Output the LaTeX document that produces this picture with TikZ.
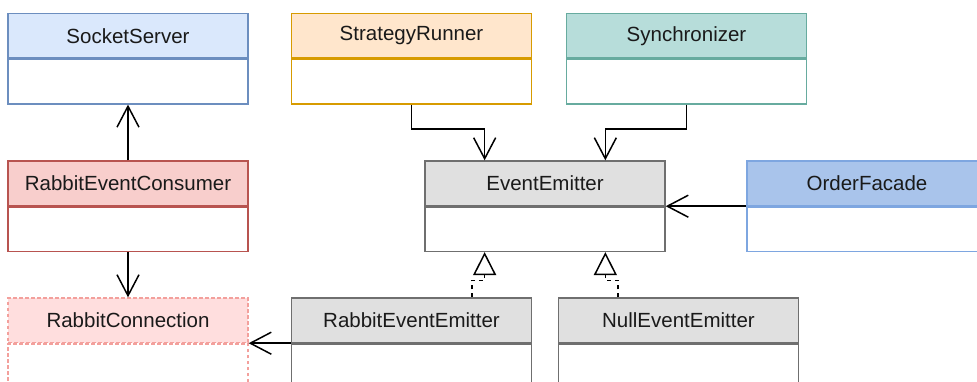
\documentclass[tikz,border=0pt]{standalone}
\usepackage{fontspec}
\setmainfont{Liberation Sans}
\usetikzlibrary{arrows.meta,positioning,calc}

% class box colours
\definecolor{ssfill}{HTML}{DAE8FC}\definecolor{ssdraw}{HTML}{6C8EBF}
\definecolor{srfill}{HTML}{FFE6CC}\definecolor{srdraw}{HTML}{D79B00}
\definecolor{syfill}{HTML}{B7DDDA}\definecolor{sydraw}{HTML}{67AB9F}
\definecolor{rcfill}{HTML}{F8CECC}\definecolor{rcdraw}{HTML}{B85450}
\definecolor{grfill}{HTML}{E0E0E0}\definecolor{grdraw}{HTML}{6F6F6F}
\definecolor{offill}{HTML}{A9C4EB}\definecolor{ofdraw}{HTML}{7EA6E0}
\definecolor{cnfill}{HTML}{FFDEDE}\definecolor{cndraw}{HTML}{F3A09C}
\definecolor{labeltext}{HTML}{1A1A1A}

\begin{document}
\begin{tikzpicture}[x=1pt,y=-1pt,
  hdr/.style={draw, line width=1.4pt, minimum width=240pt, minimum height=44.5pt,
    inner sep=0pt, font=\fontsize{20.5}{23}\selectfont, text=labeltext},
  bodybox/.style={draw, fill=white, line width=1.4pt, minimum width=240pt,
    minimum height=44.5pt, inner sep=0pt},
  conn/.style={line width=1.5pt, black},
  assoc/.style={conn, -{Straight Barb[length=21pt,width=22pt]}},
  realize/.style={conn, dash pattern=on 4pt off 4pt,
    -{Triangle[open,length=23pt,width=23pt,fill=white]}},
  cndash/.style={dash pattern=on 3.5pt off 2.5pt}
]
\path[fill=white, use as bounding box] (0,0) rectangle (977,381);

% top row
\node[hdr, fill=ssfill, draw=ssdraw] (ssh) at (128,35.75) {SocketServer};
\node[bodybox, draw=ssdraw, below=0pt of ssh] (ssb) {};
\node[hdr, fill=srfill, draw=srdraw] (srh) at (411.5,35.75) {StrategyRunner};
\node[bodybox, draw=srdraw, below=0pt of srh] (srb) {};
\node[hdr, fill=syfill, draw=sydraw] (syh) at (686.5,35.75) {Synchronizer};
\node[bodybox, draw=sydraw, below=0pt of syh] (syb) {};

% middle row
\node[hdr, fill=rcfill, draw=rcdraw] (rech) at (128,183.25) {RabbitEventConsumer};
\node[bodybox, draw=rcdraw, below=0pt of rech] (recb) {};
\node[hdr, fill=grfill, draw=grdraw] (eeh) at (545,183.25) {EventEmitter};
\node[bodybox, draw=grdraw, below=0pt of eeh] (eeb) {};
\node[hdr, fill=offill, draw=ofdraw] (ofh) at (867,183.25) {OrderFacade};
\node[bodybox, draw=ofdraw, below=0pt of ofh] (ofb) {};

% bottom row
\node[hdr, cndash, fill=cnfill, draw=cndraw] (rch) at (128,320.25) {RabbitConnection};
\node[bodybox, cndash, draw=cndraw, below=0pt of rch] (rcb) {};
\node[hdr, fill=grfill, draw=grdraw] (reh) at (411.5,320.25) {RabbitEventEmitter};
\node[bodybox, draw=grdraw, below=0pt of reh] (reb) {};
\node[hdr, fill=grfill, draw=grdraw] (neh) at (678.5,320.25) {NullEventEmitter};
\node[bodybox, draw=grdraw, below=0pt of neh] (neb) {};

% attachment points on the EventEmitter box and its implementations
\coordinate (ee-in1) at ($(eeh.north west)!0.25!(eeh.north east)$);
\coordinate (ee-in2) at ($(eeh.north west)!0.75!(eeh.north east)$);
\coordinate (ee-out1) at ($(eeb.south west)!0.25!(eeb.south east)$);
\coordinate (ee-out2) at ($(eeb.south west)!0.75!(eeb.south east)$);
\coordinate (re-top) at ($(reh.north west)!0.75!(reh.north east)$);
\coordinate (ne-top) at ($(neh.north west)!0.25!(neh.north east)$);

% associations
\draw[assoc] (rech.north) -- (ssb.south);
\draw[assoc] (recb.south) -- (rch.north);
\draw[assoc] (srb.south) -- ++(0,24.5) -| (ee-in1);
\draw[assoc] (syb.south) -- ++(0,24.5) -| (ee-in2);
\draw[assoc] (ofb.north west) -- (eeb.north east);
\draw[assoc] (reb.north west) -- (rcb.north east);

% realizations
\draw[realize] (re-top) -- ++(0,-17) -| (ee-out1);
\draw[realize] (ne-top) -- ++(0,-17) -| (ee-out2);
\end{tikzpicture}
\end{document}
